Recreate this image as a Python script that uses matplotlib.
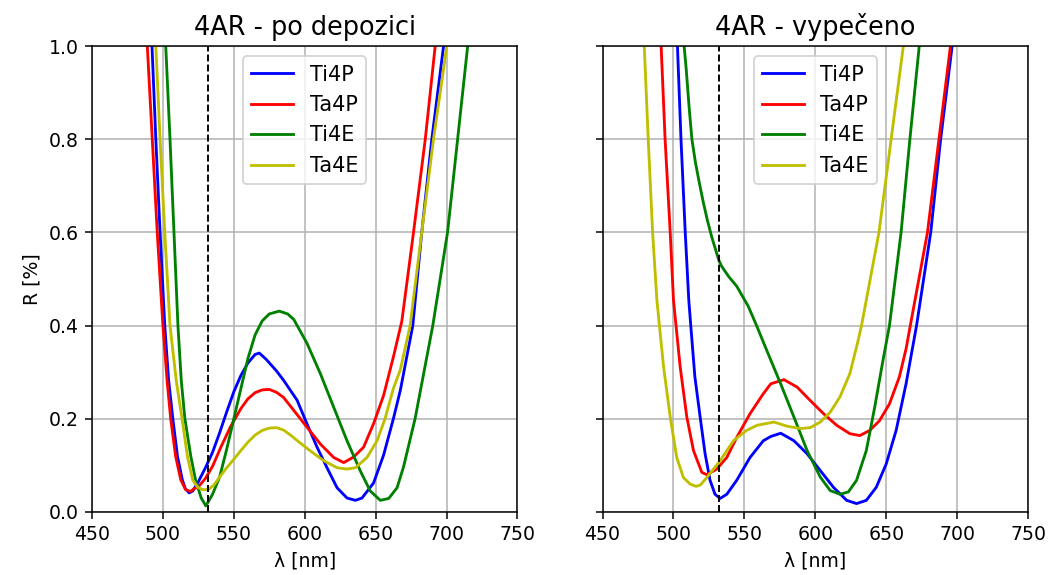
#! /usr/bin/env python3

import matplotlib

matplotlib.use("Agg")
import matplotlib.pyplot as plt

# reflectance spectra, (wavelength nm, R %)

# 4AR - po depozici
dep_ti4p_wl = [491, 492.3, 495, 498, 501.3, 504, 507, 510.3, 513.7, 515.8, 518.5,
               521, 525, 530, 535, 540, 545, 550, 555, 560, 565, 568, 573, 580,
               585, 594.6, 601.6, 608.7, 615.7, 622.8, 629.8, 635.7, 640.4,
               648.5, 655.6, 662.5, 667.4, 676.2, 682.5, 689.6, 697.9, 699.5]
dep_ti4p_r = [1.07, 1.0, 0.8, 0.6, 0.4, 0.284, 0.2, 0.119, 0.069, 0.05, 0.041,
              0.045, 0.065, 0.095, 0.128, 0.17, 0.215, 0.258, 0.293, 0.32, 0.338,
              0.341, 0.327, 0.303, 0.283, 0.24, 0.189, 0.139, 0.095, 0.052, 0.03,
              0.025, 0.03, 0.062, 0.122, 0.2, 0.261, 0.4, 0.6, 0.8, 1.0, 1.06]

dep_ta4p_wl = [488, 489, 492.5, 496, 500, 503, 505.5, 509, 512.6, 516, 519.5,
               522, 525, 530, 535, 541, 547.5, 555, 560, 565, 570, 575, 580,
               585, 592.3, 601.6, 611, 620.4, 627.5, 634.5, 641.5, 648.6, 655.6,
               662.7, 668.5, 676.7, 685, 692, 693.5]
dep_ta4p_r = [1.07, 1.0, 0.8, 0.6, 0.4, 0.28, 0.2, 0.119, 0.069, 0.048, 0.044,
              0.05, 0.054, 0.072, 0.098, 0.14, 0.182, 0.222, 0.243, 0.256, 0.262,
              0.263, 0.257, 0.246, 0.218, 0.182, 0.146, 0.117, 0.106, 0.118,
              0.139, 0.19, 0.25, 0.335, 0.41, 0.6, 0.8, 1.0, 1.06]

dep_ti4e_wl = [501, 502, 505, 507.8, 510.6, 513, 515.5, 519.7, 523, 527, 530.3,
               535, 540, 545, 550, 555, 560, 565, 570, 575, 582, 588, 592.3,
               601.6, 611, 620.4, 629.8, 639.2, 646.2, 653.3, 659.2, 665.1,
               669.6, 677.8, 690.3, 700.7, 707.8, 714.9, 716]
dep_ti4e_r = [1.06, 1.0, 0.8, 0.6, 0.4, 0.28, 0.2, 0.119, 0.069, 0.03, 0.013,
              0.038, 0.075, 0.135, 0.2, 0.265, 0.33, 0.38, 0.41, 0.425, 0.431,
              0.425, 0.413, 0.362, 0.297, 0.225, 0.153, 0.088, 0.045, 0.025,
              0.029, 0.052, 0.096, 0.2, 0.4, 0.6, 0.8, 1.0, 1.04]

dep_ta4e_wl = [493.5, 495, 498, 501.3, 505, 509.5, 513.5, 517.3, 521, 524.5, 528,
               532, 536, 540, 545, 550, 555, 560, 565, 570, 575, 580, 585, 590,
               596, 604, 613.4, 622.8, 629.8, 635.7, 643.9, 651, 656.6, 662.5,
               667.4, 674.3, 682.5, 690.8, 700.2, 702]
dep_ta4e_r = [1.08, 1.0, 0.8, 0.6, 0.4, 0.28, 0.2, 0.119, 0.069, 0.053, 0.048,
              0.048, 0.058, 0.075, 0.095, 0.113, 0.132, 0.15, 0.165, 0.175, 0.18,
              0.181, 0.176, 0.165, 0.15, 0.131, 0.11, 0.095, 0.092, 0.095, 0.117,
              0.153, 0.2, 0.265, 0.305, 0.4, 0.6, 0.8, 1.0, 1.05]

# 4AR - vypeceno
bak_ti4p_wl = [501.5, 502.8, 505.3, 508.3, 510.8, 512.2, 515.1, 518.8, 522.3,
               525.8, 529.3, 532.9, 537.6, 544.6, 554, 563.4, 568.6, 575.6,
               584.9, 594.2, 603.5, 612.8, 622.1, 629.1, 636, 643, 650, 657,
               664, 671.4, 681.4, 688.4, 696.5, 698]
bak_ti4p_r = [1.05, 1.0, 0.8, 0.6, 0.455, 0.4, 0.29, 0.204, 0.125,
              0.068, 0.038, 0.029, 0.038, 0.068, 0.117, 0.153, 0.162, 0.169,
              0.153, 0.125, 0.089, 0.053, 0.025, 0.018, 0.025, 0.053, 0.103, 0.175,
              0.275, 0.4, 0.6, 0.8, 1.0, 1.04]

bak_ta4p_wl = [490, 491.3, 494.1, 497.7, 500, 501.8, 504.7, 509.4, 514.1, 520,
               523.5, 530.5, 537.6, 544.6, 554, 563.4, 568.6, 577.9, 587.2, 596.5,
               605.8, 615.1, 624.4, 631.4, 638.4, 645.3, 652.3, 659.3, 664, 667,
               679.1, 687.2, 695.3, 697]
bak_ta4p_r = [1.06, 1.0, 0.8, 0.6, 0.455, 0.4, 0.312, 0.204, 0.132, 0.085,
              0.08, 0.092, 0.117, 0.16, 0.211, 0.254, 0.275, 0.284, 0.268, 0.239,
              0.211, 0.186, 0.168, 0.164, 0.175, 0.196, 0.232, 0.29, 0.35, 0.4,
              0.6, 0.8, 1.0, 1.07]

bak_ti4e_wl = [506.5, 507.5, 509, 511, 513, 515.5, 518, 521, 524, 527, 530,
               532, 534, 539, 544.7, 552.8, 558.6, 566.7, 575.6, 584.9, 594.2,
               603.5, 610.5, 617.4, 623.3, 629.1, 636, 641.9, 647.7, 652.3,
               660.5, 666.7, 673.3, 674.5]
bak_ti4e_r = [1.06, 1.0, 0.95, 0.87, 0.8, 0.75, 0.71, 0.665, 0.625, 0.59, 0.56,
              0.54, 0.527, 0.505, 0.484, 0.441, 0.4, 0.34, 0.275, 0.204, 0.132,
              0.075, 0.046, 0.038, 0.043, 0.068, 0.132, 0.225, 0.325, 0.4,
              0.6, 0.8, 1.0, 1.04]

bak_ta4e_wl = [477.5, 479.4, 482.2, 485.3, 488.3, 493, 497.7, 502.3, 507, 511.7,
               516, 519, 523.5, 532.9, 542.3, 551.6, 558.9, 565.7, 570.9, 580.2,
               589.5, 596.5, 603.5, 610.5, 617.4, 624.4, 630.2, 632.6, 644.9,
               653.5, 662.1, 663.5]
bak_ta4e_r = [1.07, 1.0, 0.8, 0.6, 0.455, 0.312, 0.204, 0.117, 0.074, 0.06,
              0.055, 0.058, 0.074, 0.11, 0.153, 0.175, 0.186, 0.19, 0.193, 0.184,
              0.179, 0.181, 0.193, 0.214, 0.247, 0.297, 0.368, 0.4, 0.6,
              0.8, 1.0, 1.04]

labels = ["Ti4P", "Ta4P", "Ti4E", "Ta4E"]
colours = ["b", "r", "g", "y"]
laser_wl = 532


def plotPanel(ax, title, series):
    for (wl, r), name, c in zip(series, labels, colours):
        ax.plot(wl, r, color=c, label=name)
    ax.axvline(laser_wl, color="k", linestyle="--", linewidth=1)
    ax.set_xlim(450, 750)
    ax.set_ylim(0, 1)
    ax.set_title(title, fontsize=13.5)
    ax.set_xlabel("λ [nm]")
    ax.grid()
    ax.legend(loc="upper center", fontsize=11)


def main():
    fig, (ax1, ax2) = plt.subplots(1, 2, sharey=True,
                                   figsize=(1049 / 136, 575 / 136), dpi=136)
    fig.subplots_adjust(left=0.0877, right=0.98, bottom=0.1096, top=0.92,
                        wspace=0.2)

    plotPanel(ax1, "4AR - po depozici", [
        (dep_ti4p_wl, dep_ti4p_r),
        (dep_ta4p_wl, dep_ta4p_r),
        (dep_ti4e_wl, dep_ti4e_r),
        (dep_ta4e_wl, dep_ta4e_r),
    ])
    plotPanel(ax2, "4AR - vypečeno", [
        (bak_ti4p_wl, bak_ti4p_r),
        (bak_ta4p_wl, bak_ta4p_r),
        (bak_ti4e_wl, bak_ti4e_r),
        (bak_ta4e_wl, bak_ta4e_r),
    ])
    ax1.set_ylabel("R [%]")
    ax1.set_xticks(range(450, 751, 50))
    ax2.set_xticks(range(450, 751, 50))

    fig.savefig("out.png", dpi=136)


if __name__ == "__main__":
    main()
